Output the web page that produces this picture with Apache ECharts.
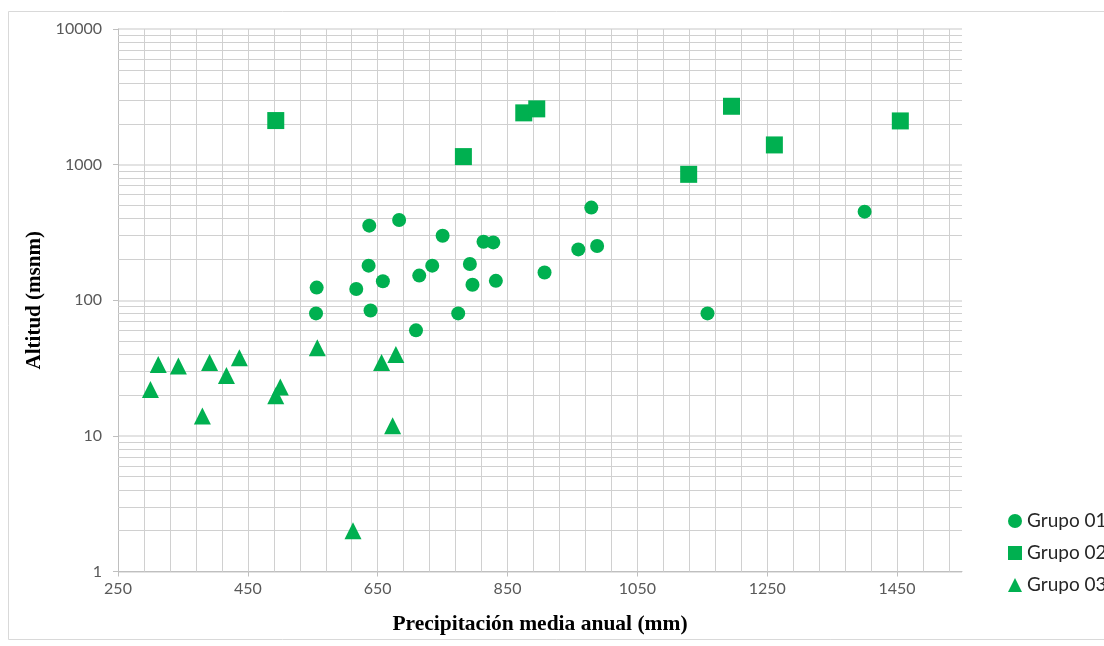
<!DOCTYPE html>
<html>
<head>
<meta charset="utf-8">
<script src="https://cdn.jsdelivr.net/npm/echarts@6/dist/echarts.min.js"></script>
<style>
html,body{margin:0;padding:0;background:#fff;}
#chart{width:1104px;height:646px;}
</style>
</head>
<body>
<div id="chart"></div>
<script>
// ---- data ----
const seriesNames = ['Grupo 01', 'Grupo 02', 'Grupo 03'];

const grupo01X = [556, 555, 617, 637, 636, 639, 658, 683, 709, 714, 734, 750, 774, 792, 796, 813, 828, 832, 907, 959, 979, 988, 1158, 1400];
const grupo01Y = [124, 80, 121, 355, 180, 84, 138, 391, 60, 152, 180, 299, 80, 185, 130, 270, 267, 139, 160, 237, 482, 251, 80, 450];

const grupo02X = [493, 782, 875, 895, 1129, 1195, 1261, 1455];
const grupo02Y = [2113, 1146, 2408, 2577, 848, 2693, 1397, 2100];

const grupo03X = [300, 312, 343, 380, 391, 417, 437, 493, 500, 557, 612, 656, 678, 673];
const grupo03Y = [22, 33.6, 32.7, 14, 34.8, 27.9, 37.7, 19.8, 22.9, 44.6, 2, 34.8, 39.8, 11.9];

const xTickLabels = [250, 450, 650, 850, 1050, 1250, 1450];
const yTickLabels = [1, 10, 100, 1000, 10000];
const xGridValues = [290, 330, 370, 410, 450, 490, 530, 570, 610, 650, 690, 730, 770, 810, 850, 890, 930, 970, 1010, 1050, 1090, 1130, 1170, 1210, 1250, 1290, 1330, 1370, 1410, 1450, 1490, 1530];
const yMinorGridValues = [2, 3, 4, 5, 6, 7, 8, 9, 20, 30, 40, 50, 60, 70, 80, 90, 200, 300, 400, 500, 600, 700, 800, 900, 2000, 3000, 4000, 5000, 6000, 7000, 8000, 9000];

function pairs(xs, ys) { return xs.map((x, i) => [x, ys[i]]); }

const green = '#00b050';
const gridColor = '#d0d0d0';
const labelFont = 'Lato, "Liberation Sans", sans-serif';
const titleFont = '"Liberation Serif", "Times New Roman", serif';

const chart = echarts.init(document.getElementById('chart'), null, {renderer: 'canvas'});
chart.setOption({
  animation: false,
  backgroundColor: '#ffffff',
  graphic: [{
    type: 'rect', silent: true, z: -10,
    shape: {x: 8.5, y: 11.5, width: 1110, height: 628},
    style: {fill: 'none', stroke: '#d9d9d9', lineWidth: 1}
  }],
  grid: {left: 118, top: 29, right: 142, bottom: 74.5, containLabel: false},
  legend: {
    orient: 'vertical', left: 1008, top: 511, itemGap: 12, padding: 0,
    itemWidth: 14, itemHeight: 14,
    data: seriesNames,
    textStyle: {fontFamily: labelFont, fontSize: 19, color: '#262626', lineHeight: 20}
  },
  xAxis: {
    type: 'value', min: 250, max: 1550,
    name: 'Precipitación media anual (mm)', nameLocation: 'middle', nameGap: 42,
    nameTextStyle: {fontFamily: titleFont, fontWeight: 'bold', fontSize: 21.5, color: '#000'},
    axisLine: {show: true, lineStyle: {color: '#bfbfbf', width: 1}},
    axisTick: {show: true, length: 5, customValues: xTickLabels, lineStyle: {color: '#bfbfbf'}},
    axisLabel: {customValues: xTickLabels, fontFamily: labelFont, fontSize: 16, color: '#595959', margin: 9,
                formatter: v => String(v)},
    splitLine: {show: false}
  },
  yAxis: {
    type: 'log', logBase: 10, min: 1, max: 10000,
    name: 'Altitud (msnm)', nameLocation: 'middle', nameGap: 69, nameRotate: 90,
    nameTextStyle: {fontFamily: titleFont, fontWeight: 'bold', fontSize: 21, color: '#000'},
    axisLine: {show: true, lineStyle: {color: '#bfbfbf', width: 1}},
    axisTick: {show: true, length: 5, lineStyle: {color: '#bfbfbf'}},
    axisLabel: {customValues: yTickLabels, fontFamily: labelFont, fontSize: 16, color: '#595959', margin: 16,
                formatter: v => String(Math.round(v))},
    splitLine: {show: true, lineStyle: {color: '#e3e3e3', width: 2}}
  },
  series: [
    {
      name: 'grid', type: 'scatter', data: [], z: 1, silent: true,
      markLine: {
        silent: true, symbol: ['none', 'none'], animation: false,
        label: {show: false},
        lineStyle: {color: gridColor, width: 1, type: 'solid'},
        emphasis: {disabled: true},
        data: xGridValues.map(v => ({xAxis: v})).concat(yMinorGridValues.map(v => ({yAxis: v})))
      }
    },
    {name: seriesNames[0], type: 'scatter', symbol: 'circle', symbolSize: 14, z: 5,
     itemStyle: {color: green, opacity: 1}, data: pairs(grupo01X, grupo01Y)},
    {name: seriesNames[1], type: 'scatter', symbol: 'rect', symbolSize: 17, z: 5,
     itemStyle: {color: green, opacity: 1}, data: pairs(grupo02X, grupo02Y)},
    {name: seriesNames[2], type: 'scatter', symbol: 'triangle', symbolSize: 17, z: 5,
     itemStyle: {color: green, opacity: 1}, data: pairs(grupo03X, grupo03Y)}
  ]
});
</script>
</body>
</html>
